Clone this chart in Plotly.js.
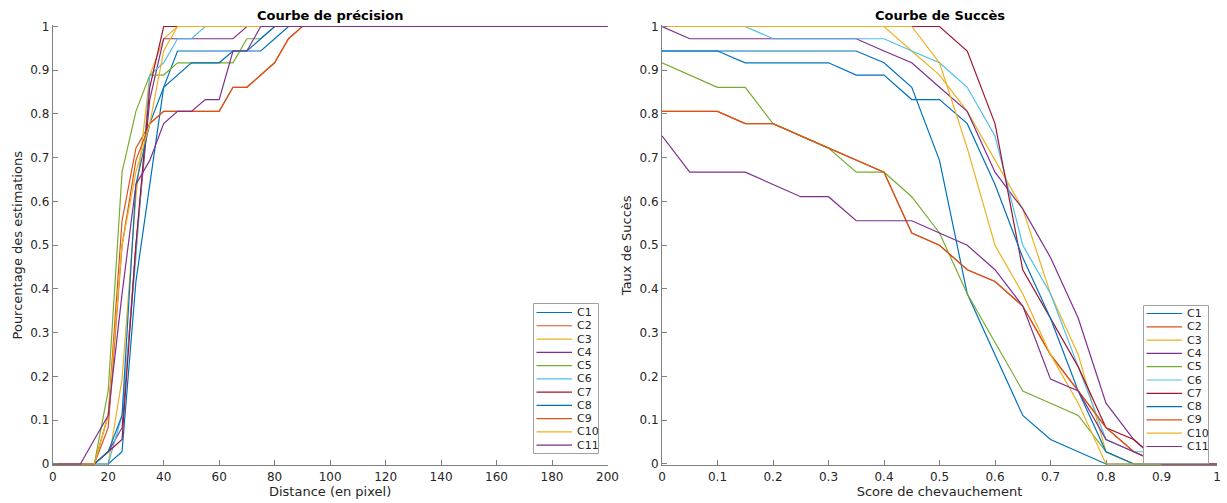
<!DOCTYPE html>
<html>
<head>
<meta charset="utf-8">
<script src="https://cdn.plot.ly/plotly-3.0.1.min.js"></script>
<style>html,body{margin:0;padding:0;background:#fff;}#chart{width:1227px;height:503px;}</style>
</head>
<body>
<div id="chart"></div>
<script>
// ---------- DATA ----------
const seriesNames = ['C1','C2','C3','C4','C5','C6','C7','C8','C9','C10','C11'];
const seriesColors = ['#0072BD','#D95319','#EDB120','#7E2F8E','#77AC30','#4DBEEE','#A2142F','#0072BD','#D95319','#EDB120','#7E2F8E'];

// Courbe de précision : distance (en pixel)
const distX = [0,5,10,15,20,25,30,35,40,45,50,55,60,65,70,75,80,85,90,95,100,105,110,115,120,125,130,135,140,145,150,155,160,165,170,175,180,185,190,195,200];
const precC1  = [0,0,0,0,0,0.028,0.417,0.639,0.861,0.944,0.944,0.944,0.944,0.944,0.944,0.944,0.972,1,1,1,1,1,1,1,1,1,1,1,1,1,1,1,1,1,1,1,1,1,1,1,1];
const precC2  = [0,0,0,0,0.111,0.556,0.722,0.778,0.806,0.806,0.806,0.806,0.806,0.861,0.861,0.889,0.917,0.972,1,1,1,1,1,1,1,1,1,1,1,1,1,1,1,1,1,1,1,1,1,1,1];
const precC3  = [0,0,0,0,0,0.194,0.611,0.889,0.972,1,1,1,1,1,1,1,1,1,1,1,1,1,1,1,1,1,1,1,1,1,1,1,1,1,1,1,1,1,1,1,1];
const precC4  = [0,0,0,0,0.028,0.083,0.5,0.833,0.972,0.972,0.972,0.972,0.972,0.972,1,1,1,1,1,1,1,1,1,1,1,1,1,1,1,1,1,1,1,1,1,1,1,1,1,1,1];
const precC5  = [0,0,0,0,0.167,0.667,0.806,0.889,0.889,0.917,0.917,0.917,0.917,0.917,0.972,0.972,1,1,1,1,1,1,1,1,1,1,1,1,1,1,1,1,1,1,1,1,1,1,1,1,1];
const precC6  = [0,0,0,0,0,0.111,0.472,0.889,0.917,0.972,0.972,1,1,1,1,1,1,1,1,1,1,1,1,1,1,1,1,1,1,1,1,1,1,1,1,1,1,1,1,1,1];
const precC7  = [0,0,0,0,0.028,0.056,0.5,0.861,1,1,1,1,1,1,1,1,1,1,1,1,1,1,1,1,1,1,1,1,1,1,1,1,1,1,1,1,1,1,1,1,1];
const precC8  = [0,0,0,0,0.028,0.111,0.639,0.778,0.861,0.889,0.917,0.917,0.917,0.944,0.944,0.972,1,1,1,1,1,1,1,1,1,1,1,1,1,1,1,1,1,1,1,1,1,1,1,1,1];
const precC9  = [0,0,0,0,0.083,0.5,0.694,0.778,0.806,0.806,0.806,0.806,0.806,0.861,0.861,0.889,0.917,0.972,1,1,1,1,1,1,1,1,1,1,1,1,1,1,1,1,1,1,1,1,1,1,1];
const precC10 = [0,0,0,0,0.111,0.5,0.667,0.778,0.944,1,1,1,1,1,1,1,1,1,1,1,1,1,1,1,1,1,1,1,1,1,1,1,1,1,1,1,1,1,1,1,1];
const precC11 = [0,0,0,0.056,0.111,0.389,0.639,0.694,0.778,0.806,0.806,0.833,0.833,0.944,0.944,1,1,1,1,1,1,1,1,1,1,1,1,1,1,1,1,1,1,1,1,1,1,1,1,1,1];

// Courbe de Succès : score de chevauchement
const scoreX = [0,0.05,0.1,0.15,0.2,0.25,0.3,0.35,0.4,0.45,0.5,0.55,0.6,0.65,0.7,0.75,0.8,0.85,0.9,0.95,1];
const succC1  = [0.944,0.944,0.944,0.944,0.944,0.944,0.944,0.944,0.917,0.861,0.694,0.389,0.25,0.111,0.056,0.028,0,0,0,0,0];
const succC2  = [0.806,0.806,0.806,0.778,0.778,0.75,0.722,0.694,0.667,0.528,0.5,0.444,0.417,0.361,0.25,0.167,0.083,0.028,0,0,0];
const succC3  = [1,1,1,1,1,1,1,1,1,0.944,0.889,0.806,0.694,0.583,0.389,0.25,0.028,0,0,0,0];
const succC4  = [1,0.972,0.972,0.972,0.972,0.972,0.972,0.972,0.944,0.917,0.861,0.806,0.667,0.583,0.472,0.333,0.139,0.056,0,0,0];
const succC5  = [0.917,0.889,0.861,0.861,0.778,0.75,0.722,0.667,0.667,0.611,0.528,0.389,0.278,0.167,0.139,0.111,0.028,0,0,0,0];
const succC6  = [1,1,1,1,0.972,0.972,0.972,0.972,0.972,0.944,0.917,0.861,0.75,0.5,0.389,0.222,0.056,0.028,0.028,0,0];
const succC7  = [1,1,1,1,1,1,1,1,1,1,1,0.944,0.778,0.444,0.333,0.222,0.083,0.056,0,0,0];
const succC8  = [0.944,0.944,0.944,0.917,0.917,0.917,0.917,0.889,0.889,0.833,0.833,0.778,0.639,0.472,0.333,0.167,0.028,0,0,0,0];
const succC9  = [0.806,0.806,0.806,0.778,0.778,0.75,0.722,0.694,0.667,0.528,0.5,0.444,0.417,0.361,0.25,0.167,0.083,0.028,0,0,0];
const succC10 = [1,1,1,1,1,1,1,1,1,1,0.917,0.722,0.5,0.389,0.25,0.139,0,0,0,0,0];
const succC11 = [0.75,0.667,0.667,0.667,0.639,0.611,0.611,0.556,0.556,0.556,0.528,0.5,0.444,0.361,0.194,0.167,0.056,0.028,0,0,0];

const xTicksLeft = [0,20,40,60,80,100,120,140,160,180,200];
const xTicksRight = [0,0.1,0.2,0.3,0.4,0.5,0.6,0.7,0.8,0.9,1];
const yTicks = [0,0.1,0.2,0.3,0.4,0.5,0.6,0.7,0.8,0.9,1];

const precSeries = [precC1,precC2,precC3,precC4,precC5,precC6,precC7,precC8,precC9,precC10,precC11];
const succSeries = [succC1,succC2,succC3,succC4,succC5,succC6,succC7,succC8,succC9,succC10,succC11];

// ---------- LAYOUT ----------
const W = 1227, H = 503;
const px = v => v / W;
const py = v => 1 - v / H;
const pad = 0.003;
const yPix0 = 464, yPix1 = 26.5, ySpan = yPix0 - yPix1;
const yDomain = [py(yPix0 + pad * ySpan), py(yPix1 - pad * ySpan)];

const traces = [];
seriesNames.forEach((n, i) => {
  traces.push({x: distX, y: precSeries[i], xaxis: 'x', yaxis: 'y', type: 'scatter', mode: 'lines',
    name: n, line: {color: seriesColors[i], width: 1.2}, showlegend: false, hoverinfo: 'skip'});
});
seriesNames.forEach((n, i) => {
  traces.push({x: scoreX, y: succSeries[i], xaxis: 'x2', yaxis: 'y2', type: 'scatter', mode: 'lines',
    name: n, line: {color: seriesColors[i], width: 1.2}, showlegend: false, hoverinfo: 'skip'});
});

const axisCommon = {
  showline: true, linecolor: '#808080', linewidth: 1, mirror: false,
  ticks: 'inside', ticklen: 5, tickwidth: 1, tickcolor: '#808080',
  showgrid: false, zeroline: false, automargin: false, fixedrange: true,
  tickfont: {family: 'DejaVu Sans', size: 12, color: '#262626'}
};
const titleFont = {family: 'DejaVu Sans', size: 13, color: '#262626'};

const shapes = [];
const annotations = [];

function addLegend(x0, x1, y0, y1, firstY, step) {
  shapes.push({type: 'rect', xref: 'paper', yref: 'paper', x0: px(x0), x1: px(x1), y0: py(y1), y1: py(y0),
    line: {color: '#a0a0a0', width: 1}, fillcolor: '#ffffff', layer: 'above'});
  seriesNames.forEach((n, i) => {
    const yy = firstY + i * step;
    shapes.push({type: 'line', xref: 'paper', yref: 'paper', x0: px(x0 + 3), x1: px(x0 + 38.5), y0: py(yy), y1: py(yy),
      line: {color: seriesColors[i], width: 1.2}, layer: 'above'});
    annotations.push({xref: 'paper', yref: 'paper', x: px(x0 + 41.5), y: py(yy), xanchor: 'left', yanchor: 'middle',
      text: n, showarrow: false, font: {family: 'DejaVu Sans', size: 11, color: '#262626'}});
  });
}
addLegend(533.5, 598.5, 303.5, 453.5, 312.5, 13.27);
addLegend(1143.5, 1208.5, 305.5, 463.5, 313.5, 13.3);

annotations.push({xref: 'paper', yref: 'paper', x: px((52.7 + 607.5) / 2), y: py(16), xanchor: 'center', yanchor: 'middle',
  text: '<b>Courbe de précision</b>', showarrow: false, font: {family: 'DejaVu Sans', size: 13, color: '#000'}});
annotations.push({xref: 'paper', yref: 'paper', x: px((662 + 1217) / 2), y: py(16), xanchor: 'center', yanchor: 'middle',
  text: '<b>Courbe de Succès</b>', showarrow: false, font: {family: 'DejaVu Sans', size: 13, color: '#000'}});

const layout = {
  width: W, height: H,
  margin: {l: 0, r: 0, t: 0, b: 0, pad: 0},
  paper_bgcolor: '#ffffff', plot_bgcolor: '#ffffff',
  showlegend: false,
  font: {family: 'DejaVu Sans', size: 12, color: '#262626'},
  xaxis: Object.assign({}, axisCommon, {domain: [px(52.7), px(607.5)], range: [0, 200], tickvals: xTicksLeft, ticktext: xTicksLeft.map(String), anchor: 'y',
    title: {text: 'Distance (en pixel)', font: titleFont, standoff: 4}}),
  yaxis: Object.assign({}, axisCommon, {domain: yDomain, range: [-pad, 1 + pad], tickvals: yTicks, ticktext: yTicks.map(String), anchor: 'x',
    title: {text: 'Pourcentage des estimations', font: titleFont, standoff: 4}}),
  xaxis2: Object.assign({}, axisCommon, {domain: [px(662), px(1217)], range: [0, 1], tickvals: xTicksRight, ticktext: xTicksRight.map(String), anchor: 'y2',
    title: {text: 'Score de chevauchement', font: titleFont, standoff: 4}}),
  yaxis2: Object.assign({}, axisCommon, {domain: yDomain, range: [-pad, 1 + pad], tickvals: yTicks, ticktext: yTicks.map(String), anchor: 'x2',
    title: {text: 'Taux de Succès', font: titleFont, standoff: 4}}),
  shapes: shapes,
  annotations: annotations
};

Plotly.newPlot('chart', traces, layout, {displayModeBar: false, staticPlot: true});
</script>
</body>
</html>
